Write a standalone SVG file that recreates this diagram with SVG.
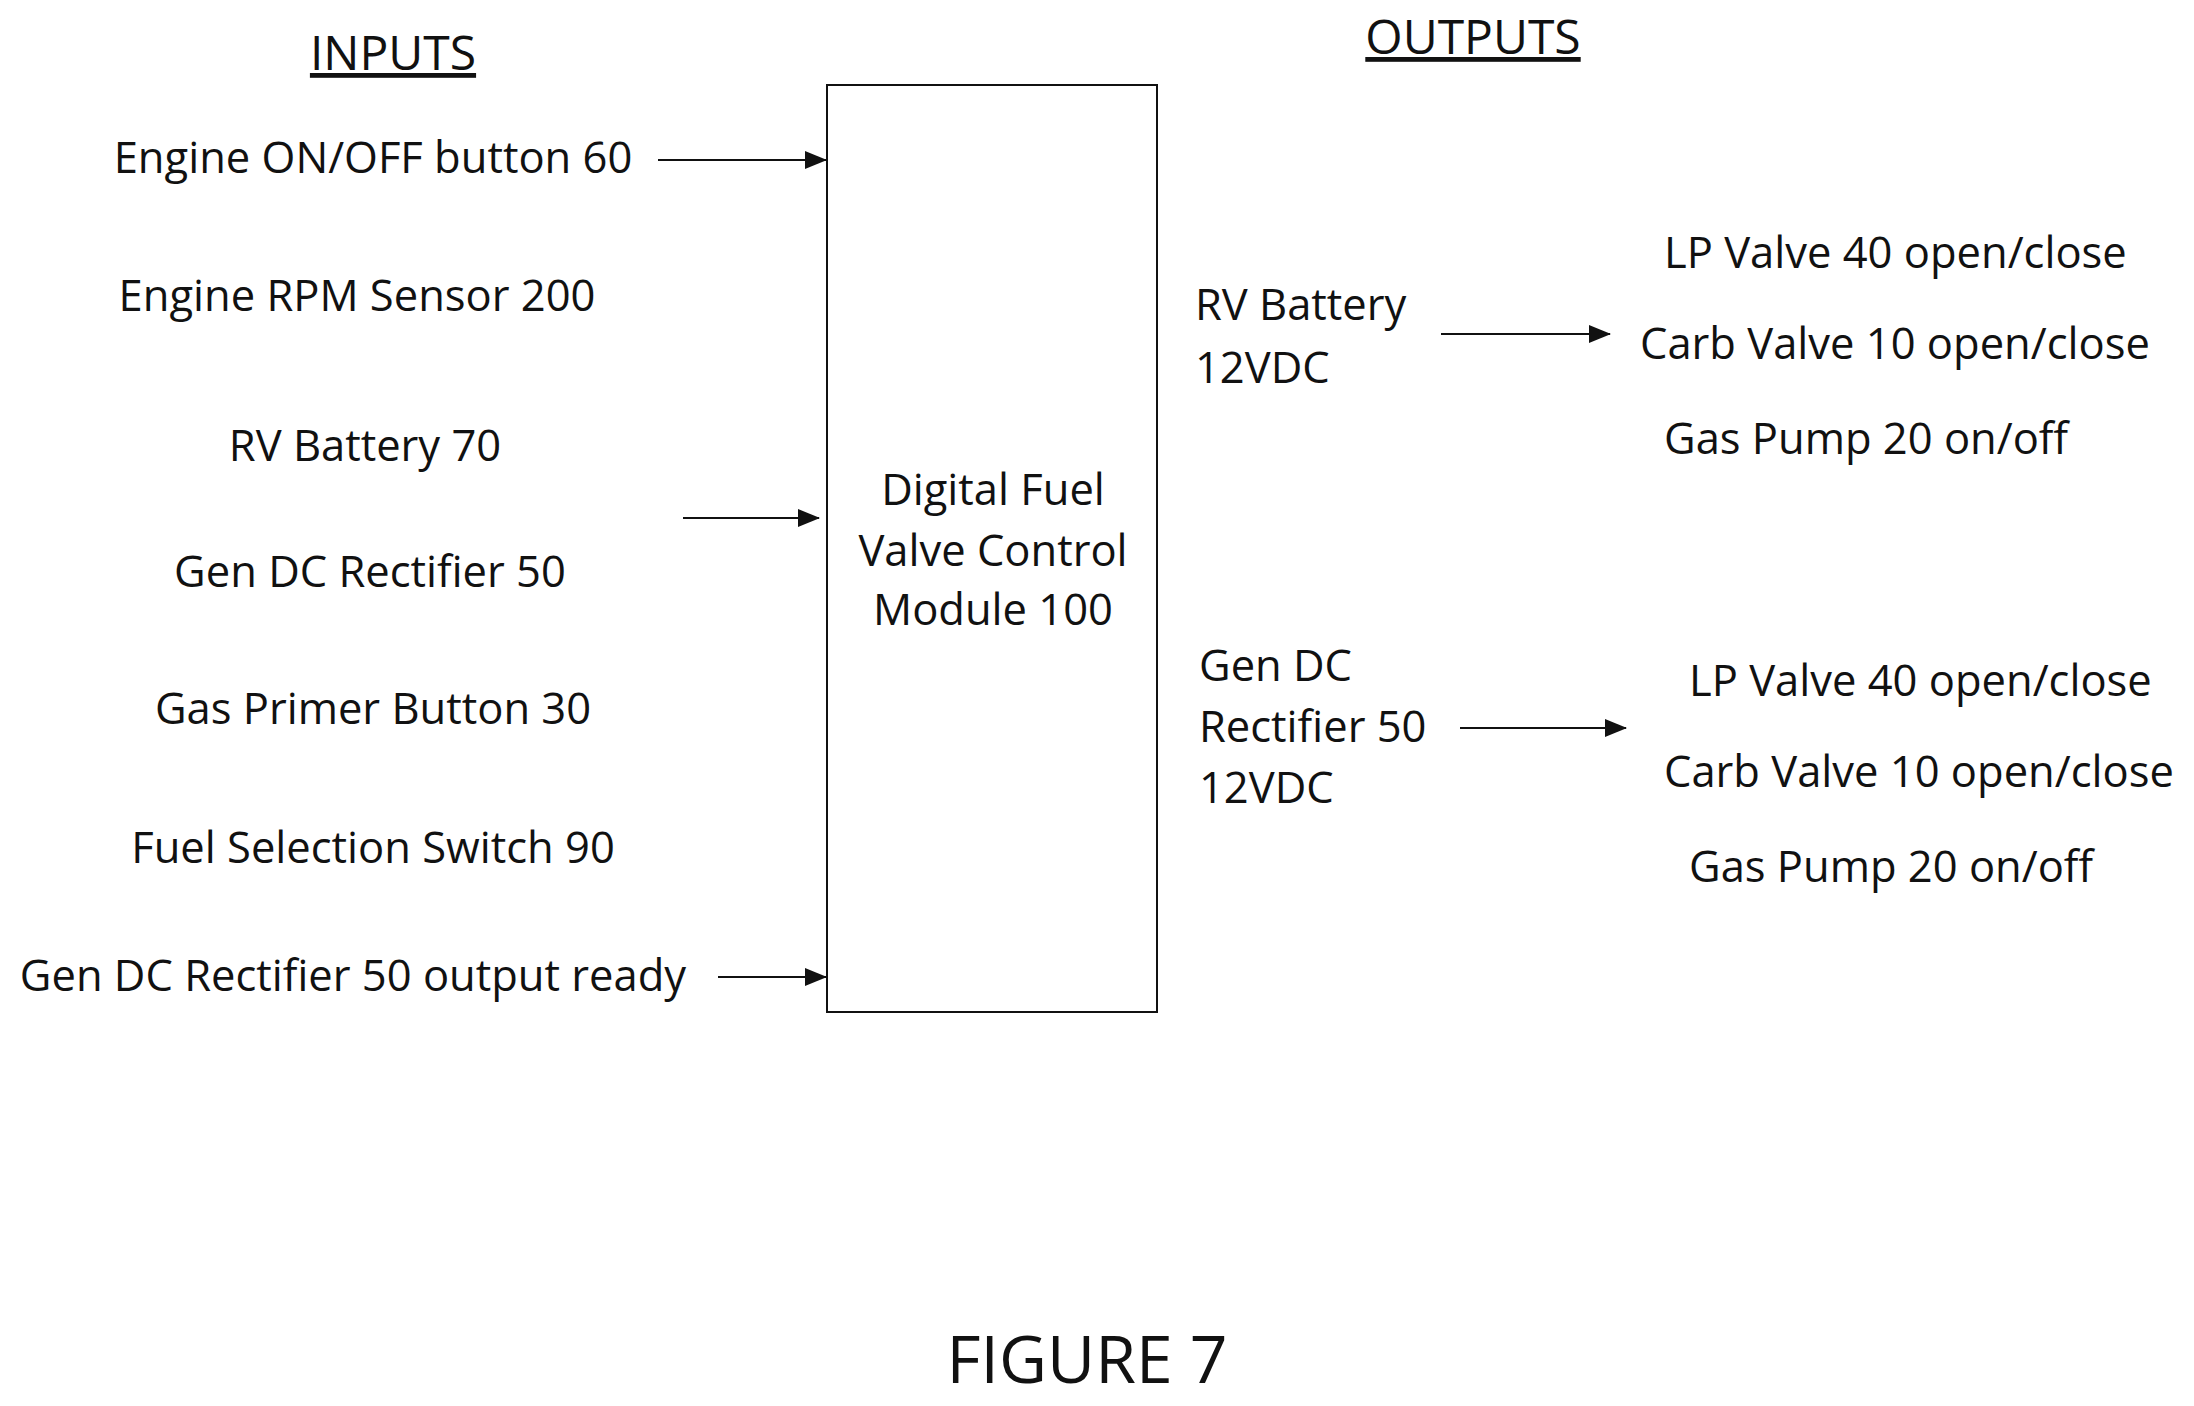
<svg xmlns="http://www.w3.org/2000/svg" width="2194" height="1406" viewBox="0 0 2194 1406">
<style>
text{font-family:"Open Sans","Liberation Sans",sans-serif;font-size:43.5px;fill:#111}
.c{text-anchor:middle}
.h{font-size:48px;text-decoration:underline}
.ln{stroke:#111;stroke-width:2;fill:none}
</style>
<defs><marker id="a" markerWidth="22" markerHeight="18" refX="21" refY="9" orient="auto" markerUnits="userSpaceOnUse"><path d="M0,0L22,9L0,18z" fill="#111"/></marker></defs>
<rect width="2194" height="1406" fill="#fff"/>
<text class="c h" x="393" y="70">INPUTS</text>
<text class="c h" x="1473" y="54">OUTPUTS</text>
<g id="module"><rect x="827" y="85" width="330" height="927" class="ln" stroke-width="3"/>
<text class="c" x="993" y="505">Digital Fuel</text><text class="c" x="993" y="566">Valve Control</text><text class="c" x="993" y="625">Module 100</text></g>
<g id="inputs">
<text class="c" x="373" y="173">Engine ON/OFF button 60</text>
<text class="c" x="357" y="311">Engine RPM Sensor 200</text>
<text class="c" x="365" y="461">RV Battery 70</text>
<text class="c" x="370" y="587">Gen DC Rectifier 50</text>
<text class="c" x="373" y="724">Gas Primer Button 30</text>
<text class="c" x="373" y="863">Fuel Selection Switch 90</text>
<text class="c" x="353" y="991">Gen DC Rectifier 50 output ready</text>
</g>
<g id="out1">
<text x="1195" y="320">RV Battery</text><text x="1195" y="383">12VDC</text>
<text x="1664" y="268">LP Valve 40 open/close</text>
<text x="1640" y="359">Carb Valve 10 open/close</text>
<text x="1664" y="454">Gas Pump 20 on/off</text>
</g>
<g id="out2">
<text x="1199" y="681">Gen DC</text><text x="1199" y="742">Rectifier 50</text><text x="1199" y="803">12VDC</text>
<text x="1689" y="696">LP Valve 40 open/close</text>
<text x="1664" y="787">Carb Valve 10 open/close</text>
<text x="1689" y="882">Gas Pump 20 on/off</text>
</g>
<g id="connectors">
<line class="ln" x1="658" y1="160" x2="826" y2="160" marker-end="url(#a)"/>
<line class="ln" x1="683" y1="518" x2="819" y2="518" marker-end="url(#a)"/>
<line class="ln" x1="718" y1="977" x2="826" y2="977" marker-end="url(#a)"/>
<line class="ln" x1="1441" y1="334" x2="1610" y2="334" marker-end="url(#a)"/>
<line class="ln" x1="1460" y1="728" x2="1626" y2="728" marker-end="url(#a)"/>
</g>
<text class="c" x="1087" y="1383" style="font-size:66px">FIGURE 7</text>
</svg>
